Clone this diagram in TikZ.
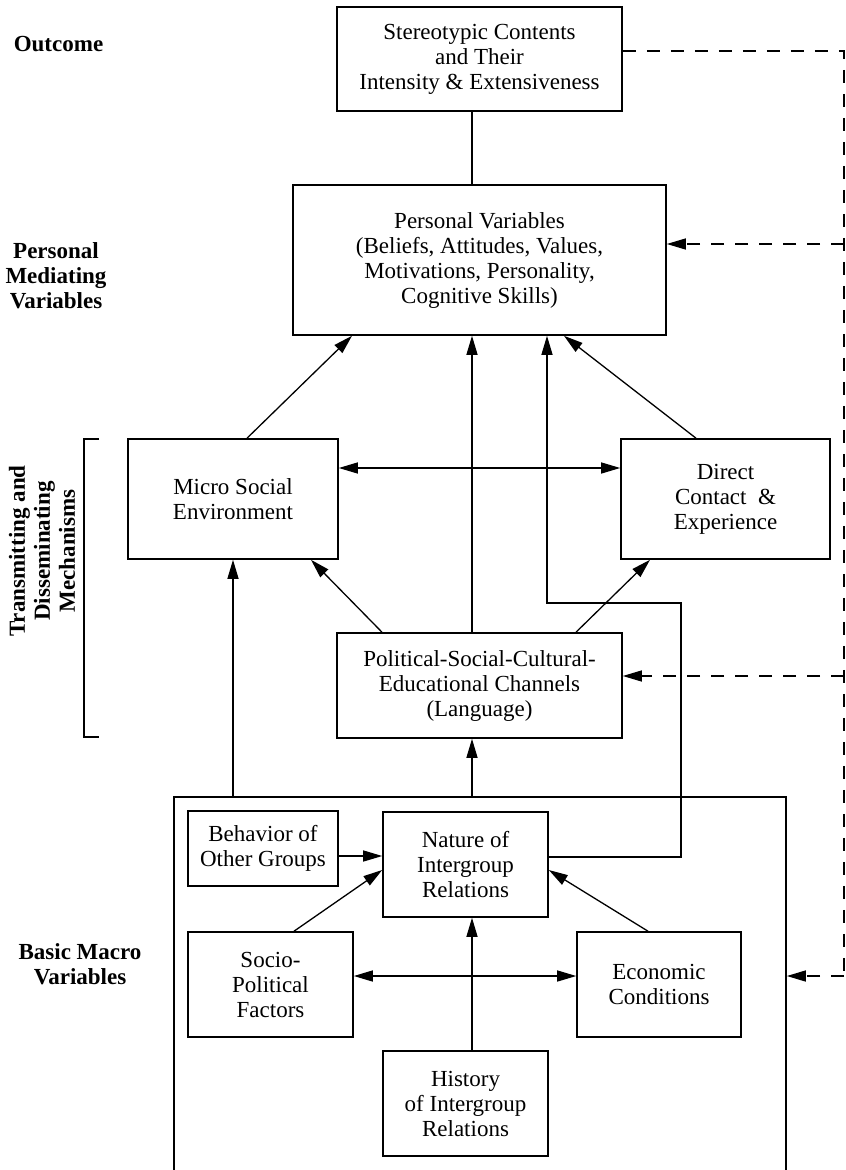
\documentclass[tikz,border=0pt]{standalone}
\usepackage{fontspec}
\setmainfont{Liberation Serif}
\usetikzlibrary{arrows.meta}
\begin{document}
\begin{tikzpicture}[x=1pt,y=-1pt,
  every node/.style={font=\fontsize{23}{25}\selectfont},
  box/.style={draw,line width=1.6pt,align=center,inner sep=0pt,anchor=center},
  lbl/.style={font=\fontsize{23}{25}\selectfont\bfseries,align=center,inner sep=0pt},
  conn/.style={line width=1.3pt},
  arr/.style={conn,-{Triangle[length=19pt,width=11pt]}},
  darr/.style={conn,{Triangle[length=19pt,width=11pt]}-{Triangle[length=19pt,width=11pt]}},
  fbdash/.style={line width=1.3pt,dash pattern=on 13pt off 11pt},
  dasharr/.style={fbdash,-{Triangle[length=19pt,width=11pt]}}]
\useasboundingbox (0,0) rectangle (846,1170);
% boxes
\node[box,minimum width=285pt,minimum height=104pt] (top) at (479.5,59) {Stereotypic Contents\\and Their\\Intensity \& Extensiveness};
\node[box,minimum width=373pt,minimum height=150pt] (pers) at (479.5,260) {Personal Variables\\(Beliefs, Attitudes, Values,\\Motivations, Personality,\\Cognitive Skills)};
\node[box,minimum width=210pt,minimum height=120pt] (micro) at (233,499) {Micro Social\\Environment};
\node[box,minimum width=209pt,minimum height=120pt] (direct) at (725.5,499) {Direct\\Contact~~\&\\Experience};
\node[box,minimum width=285pt,minimum height=105pt] (pol) at (479.5,685.5) {Political-Social-Cultural-\\Educational Channels\\(Language)};
\node[box,minimum width=612pt,minimum height=390pt] (macro) at (480,992) {};
\node[box,minimum width=150pt,minimum height=75pt] (behav) at (263,848.5) {Behavior of\\Other Groups};
\node[box,minimum width=165pt,minimum height=105pt] (nat) at (465.5,864.5) {Nature of\\Intergroup\\Relations};
\node[box,minimum width=165pt,minimum height=105pt] (socio) at (270.5,984.5) {Socio-\\Political\\Factors};
\node[box,minimum width=164pt,minimum height=105pt] (econ) at (659,984.5) {Economic\\Conditions};
\node[box,minimum width=165pt,minimum height=105pt] (hist) at (465.5,1103.5) {History\\of Intergroup\\Relations};
% labels
\node[lbl] (lout) at (58.5,44) {Outcome};
\node[lbl] (lpers) at (56,276) {Personal\\Mediating\\Variables};
\node[lbl,rotate=90] (ltrans) at (42,551) {Transmitting and\\Disseminating\\Mechanisms};
\node[lbl] (lmacro) at (80,964) {Basic Macro\\Variables};
% helper coordinates
\coordinate (vx) at (472,0);
\coordinate (rx) at (844,0);
\coordinate (jx) at (681,0);
\coordinate (px) at (547,0);
% solid connectors
\draw[conn] (top.south -| vx) -- (pers.north -| vx);
\draw[arr] (micro.north -| 247,0) -- (pers.south -| 352,0);
\draw[arr] (direct.north -| 696,0) -- (pers.south -| 564,0);
\draw[arr] (pol.north -| vx) -- (pers.south -| vx);
\draw[darr] (micro.east |- 0,468) -- (direct.west |- 0,468);
\draw[arr] (pol.north -| 382,0) -- (micro.south -| 311,0);
\draw[arr] (pol.north -| 576,0) -- (direct.south -| 650,0);
\draw[arr] (macro.north -| micro) -- (micro.south);
\draw[arr] (macro.north -| vx) -- (pol.south -| vx);
\draw[arr] (nat.east |- 0,857) -| (jx |- 0,603) -| (pers.south -| px);
\draw[arr] (behav.east |- 0,856) -- (nat.west |- 0,856);
\draw[arr] (socio.north -| 294,0) -- (nat.west |- 0,870);
\draw[arr] (econ.north -| 648,0) -- (nat.east |- 0,870);
\draw[arr] (hist.north -| vx) -- (nat.south -| vx);
\draw[darr] (socio.east |- 0,976) -- (econ.west |- 0,976);
% bracket
\draw[line width=1.3pt] (99,439) -- (84,439) -- (84,737) -- (99,737);
% dashed feedback
\draw[fbdash] (top.east |- 0,51) -- (rx |- 0,51) -- (rx |- 0,976);
\draw[dasharr] (rx |- 0,244) -- (pers.east |- 0,244);
\draw[dasharr] (rx |- 0,676) -- (pol.east |- 0,676);
\draw[dasharr] (rx |- 0,976) -- (macro.east |- 0,976);
\end{tikzpicture}
\end{document}
